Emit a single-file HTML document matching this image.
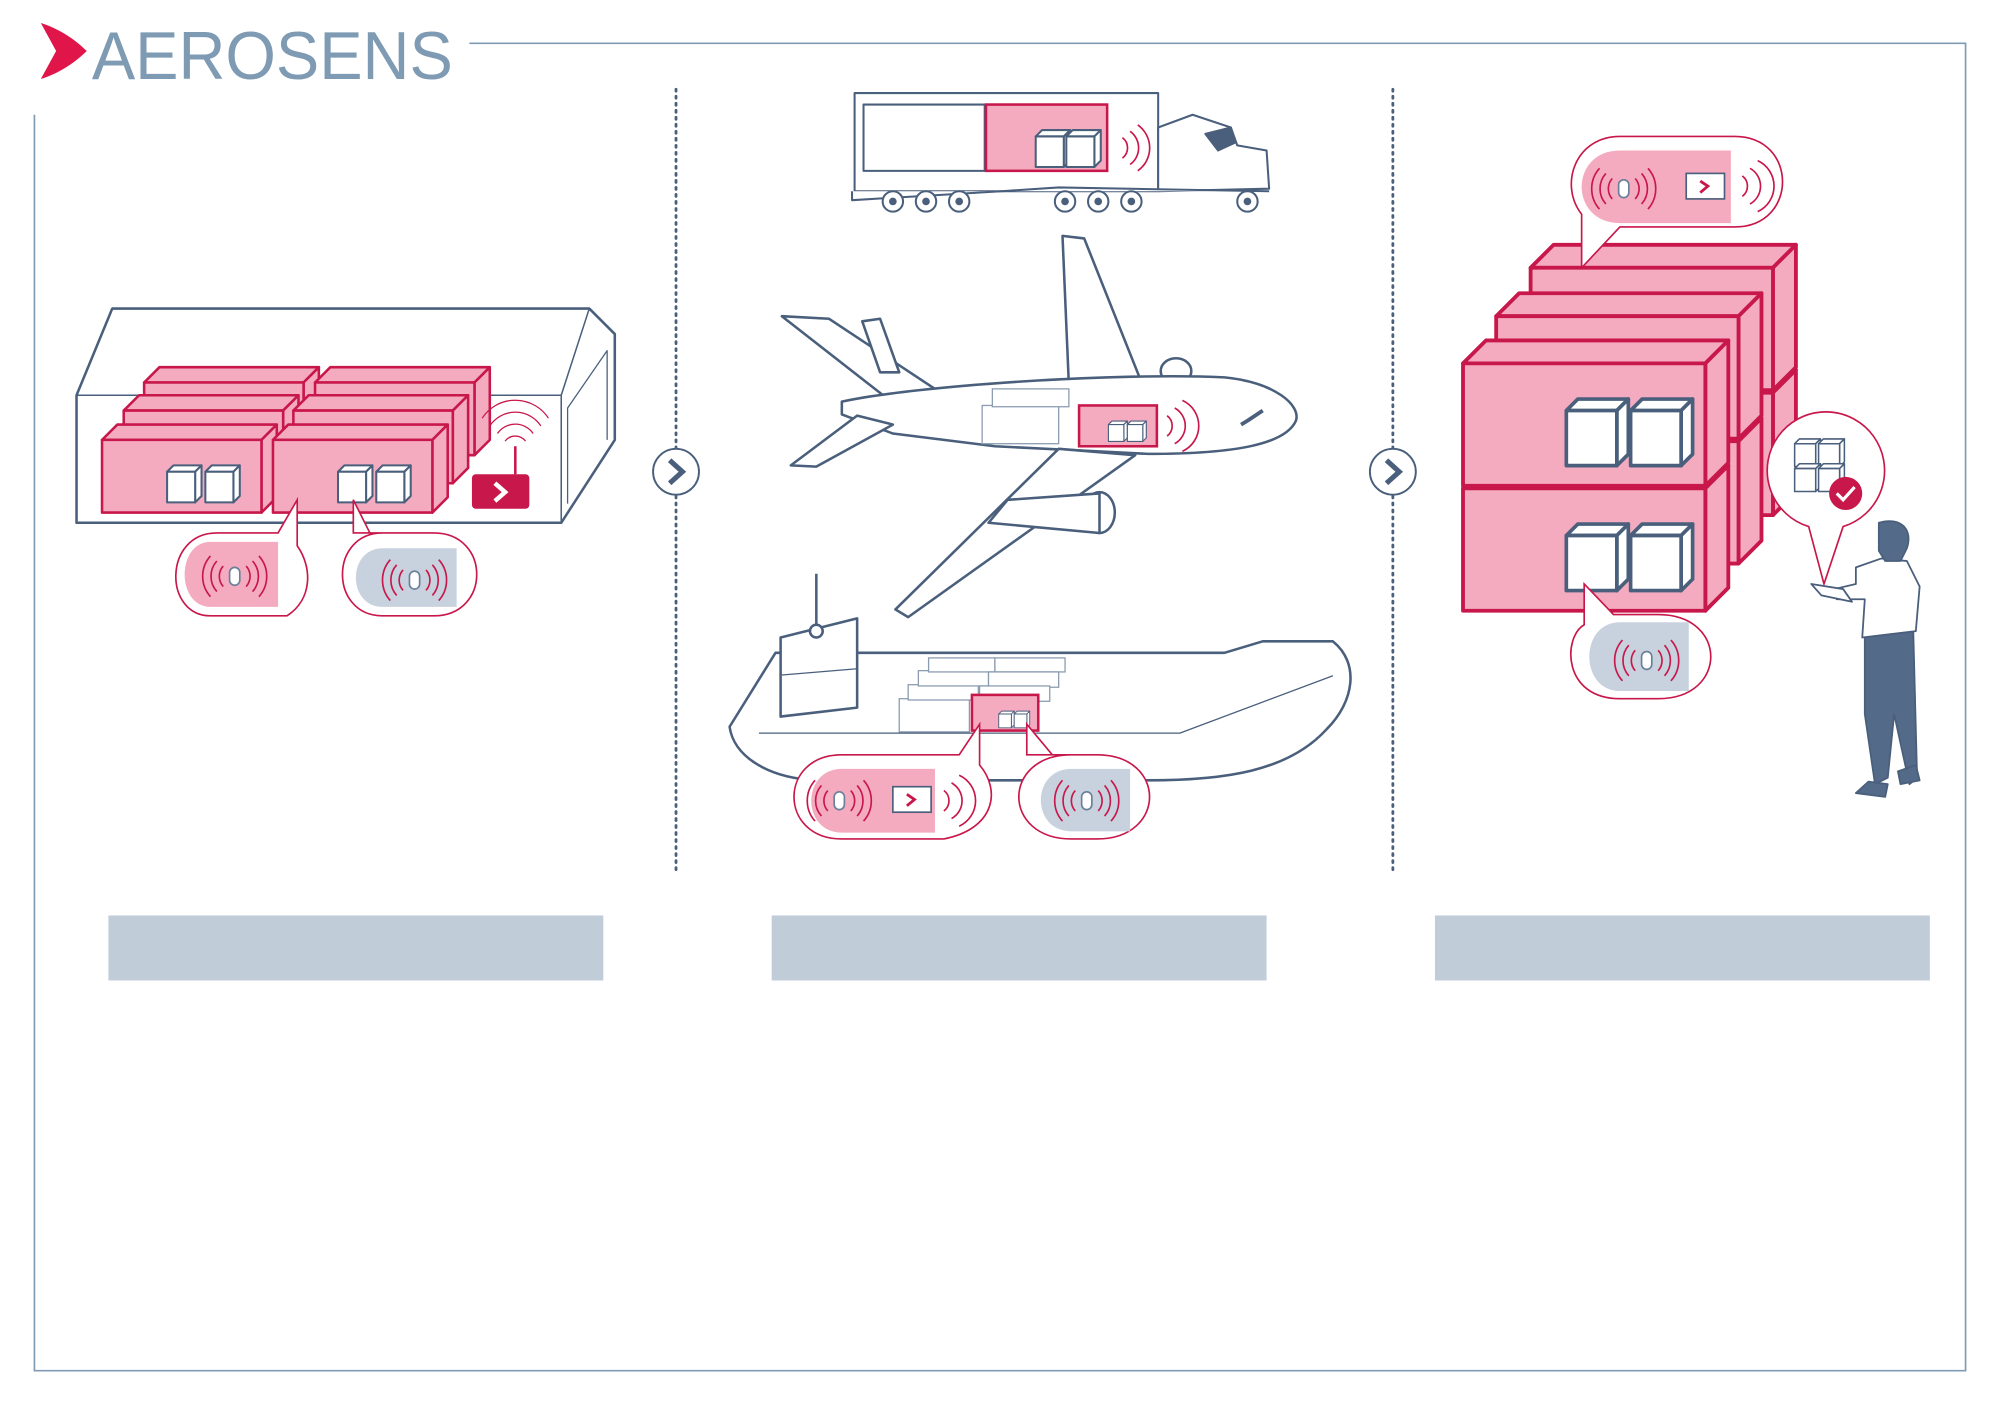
<!DOCTYPE html>
<html><head><meta charset="utf-8"><style>
html,body{margin:0;padding:0;background:#fff;}
svg{display:block;}
</style></head><body>
<svg width="2000" height="1414" viewBox="0 0 1568 1109" preserveAspectRatio="none" xmlns="http://www.w3.org/2000/svg">
<defs>
<symbol id="ct" overflow="visible"><g stroke="#c8174a" stroke-width="2" fill="#f4abc0" stroke-linejoin="round">
<path d="M0,0 L12,-12 L137,-12 L125,0 Z"/><path d="M125,0 L137,-12 L137,45 L125,57 Z"/><rect x="0" y="0" width="125" height="57"/></g></symbol>
<symbol id="bc" overflow="visible"><g stroke="#c8174a" stroke-width="3" fill="#f4abc0" stroke-linejoin="round">
<path d="M0,0 L18,-18 L208,-18 L190,0 Z"/><path d="M190,0 L208,-18 L208,78 L190,96 Z"/><rect x="0" y="0" width="190" height="96"/></g></symbol>
<symbol id="cb" overflow="visible"><g stroke="#4a5f7c" stroke-width="1.6" fill="#fff" stroke-linejoin="round">
<path d="M0,0 L5,-5 L27,-5 L22,0 Z"/><path d="M22,0 L27,-5 L27,19 L22,24 Z"/><rect x="0" y="0" width="22" height="24"/></g></symbol>
<symbol id="sig" overflow="visible"><g fill="none" stroke="#c8174a" stroke-width="1.3">
<rect x="-4" y="-7" width="8" height="14" rx="4" fill="#fff" stroke="#6a7f99"/>
<path d="M-9,-8 A12,12 0 0 0 -9,8"/><path d="M-14,-12 A18,18 0 0 0 -14,12"/><path d="M-19,-16 A24,24 0 0 0 -19,16"/>
<path d="M9,-8 A12,12 0 0 1 9,8"/><path d="M14,-12 A18,18 0 0 1 14,12"/><path d="M19,-16 A24,24 0 0 1 19,16"/></g></symbol>
<symbol id="tag" overflow="visible"><rect x="-13" y="-10" width="30" height="20" fill="#fff" stroke="#4a5f7c" stroke-width="1.3"/><path d="M-2,-4 L4,0 L-2,5" fill="none" stroke="#c8174a" stroke-width="2.2"/></symbol>
</defs>

<path d="M32,18 C45,22 58,30 68,40 C58,50 45,58 32,62 L44,40 Z" fill="#e0164a"/>
<text x="72" y="62" font-family="Liberation Sans, sans-serif" font-size="53" fill="#7f9ab3" textLength="283" lengthAdjust="spacingAndGlyphs">AEROSENS</text>
<path d="M368,34 L1541,34 L1541,1075 L27,1075 L27,90" fill="none" stroke="#7f9ab3" stroke-width="1.3"/>
<line x1="530" y1="70" x2="530" y2="685" stroke="#4a5f7c" stroke-width="2.2" stroke-dasharray="1.5 4" stroke-linecap="round"/>
<line x1="1092" y1="70" x2="1092" y2="685" stroke="#4a5f7c" stroke-width="2.2" stroke-dasharray="1.5 4" stroke-linecap="round"/>
<g stroke="#4a5f7c" stroke-width="1.5"><circle cx="530" cy="370" r="18" fill="#fff"/><circle cx="1092" cy="370" r="18" fill="#fff"/></g>
<path d="M525,361 L535,370 L525,379" fill="none" stroke="#4a5f7c" stroke-width="4"/>
<path d="M1087,361 L1097,370 L1087,379" fill="none" stroke="#4a5f7c" stroke-width="4"/>
<rect x="85" y="718" width="388" height="51" fill="#c0cdd9"/>
<rect x="605" y="718" width="388" height="51" fill="#c0cdd9"/>
<rect x="1125" y="718" width="388" height="51" fill="#c0cdd9"/>

<g fill="none" stroke="#4a5f7c" stroke-width="2" stroke-linejoin="round">
<path d="M60,310 L88,242 L462,242 L482,262 L482,345 L440,410 L60,410 Z" fill="#fff"/>
<path d="M60,310 L440,310 L462,242 M440,310 L440,410" stroke-width="1.2"/>
<path d="M445,395 L445,320 L476,275 L476,345" stroke-width="1"/>
</g>
<use href="#ct" x="113" y="300"/><use href="#ct" x="247" y="300"/>
<use href="#ct" x="97" y="322"/><use href="#ct" x="230" y="322"/>
<use href="#ct" x="80" y="345"/><use href="#ct" x="214" y="345"/>
<use href="#cb" x="131" y="370"/><use href="#cb" x="161" y="370"/>
<use href="#cb" x="265" y="370"/><use href="#cb" x="295" y="370"/>
<rect x="370" y="372" width="45" height="27" rx="3" fill="#c8174a"/>
<path d="M388,379 L396,386 L388,393" fill="none" stroke="#fff" stroke-width="3.5"/>
<line x1="404" y1="372" x2="404" y2="350" stroke="#c8174a" stroke-width="2"/>
<g fill="none" stroke="#c8174a" stroke-width="1"><path d="M396,346 A10,10 0 0 1 412,346"/><path d="M390,340 A17,17 0 0 1 418,340"/><path d="M384,334 A24,24 0 0 1 424,334"/><path d="M378,328 A31,31 0 0 1 430,328"/></g>
<g stroke="#c8174a" stroke-width="1.3" fill="#fff">
<path d="M170,418 L218,418 L233,392 L233,428 C245,445 245,470 225,483 L165,483 C128,483 128,418 170,418 Z"/>
<path d="M300,418 L290,418 L277,392 L277,418 L340,418 C385,418 385,483 340,483 L300,483 C258,483 258,418 300,418 Z"/>
</g>
<path d="M165,425 L218,425 L218,476 L165,476 C138,476 138,425 165,425 Z" fill="#f4abc0"/>
<path d="M300,430 L358,430 L358,476 L300,476 C272,476 272,430 300,430 Z" fill="#c8d2de"/>
<use href="#sig" x="184" y="452"/><use href="#sig" x="325" y="455"/>

<g stroke="#4a5f7c" stroke-width="1.6" fill="#fff" stroke-linejoin="round">
<path d="M670,73 L908,73 L908,150 L670,150 Z"/>
<rect x="677" y="82" width="95" height="52"/>
<path d="M908,100 L935,90 L965,100 L970,114 L993,118 L995,148 L908,150 Z"/>
<path d="M945,105 L965,100 L968,112 L955,118 Z" fill="#4a5f7c"/>
<path d="M668,150 L668,157 L785,150 L830,147 L995,150"/>
<circle cx="700" cy="158" r="8"/><circle cx="726" cy="158" r="8"/><circle cx="752" cy="158" r="8"/>
<circle cx="835" cy="158" r="8"/><circle cx="861" cy="158" r="8"/><circle cx="887" cy="158" r="8"/><circle cx="978" cy="158" r="8"/>
</g>
<g fill="#4a5f7c"><circle cx="700" cy="158" r="3"/><circle cx="726" cy="158" r="3"/><circle cx="752" cy="158" r="3"/><circle cx="835" cy="158" r="3"/><circle cx="861" cy="158" r="3"/><circle cx="887" cy="158" r="3"/><circle cx="978" cy="158" r="3"/></g>
<rect x="773" y="82" width="95" height="52" fill="#f4abc0" stroke="#c8174a" stroke-width="2"/>
<use href="#cb" x="812" y="107"/><use href="#cb" x="836" y="107"/>
<g fill="none" stroke="#c8174a" stroke-width="1.3"><path d="M880,108 A10,10 0 0 1 880,124"/><path d="M886,103 A16,16 0 0 1 886,129"/><path d="M892,98 A22,22 0 0 1 892,134"/></g>

<g stroke="#4a5f7c" stroke-width="2" fill="#fff" stroke-linejoin="round">
<path d="M833,185 L850,187 L895,300 L838,302 Z"/>
<ellipse cx="922" cy="291" rx="12" ry="10"/>
<path d="M613,248 L650,250 L745,313 L700,316 Z"/>
<path d="M676,252 L690,250 L705,292 L690,292 Z"/>
<path d="M660,315 C720,302 880,292 960,296 C1000,300 1020,318 1016,330 C1008,348 970,356 900,356 L780,350 L700,340 L660,325 Z"/>
<path d="M620,365 L640,366 L700,333 L672,326 Z"/>
<path d="M830,352 L890,357 L712,484 L702,478 Z"/>
<ellipse cx="862" cy="402" rx="12" ry="16"/>
<path d="M790,392 L862,387 L862,418 L775,410 Z"/>
</g>
<path d="M978,330 L990,322 M973,333 L978,330" stroke="#4a5f7c" stroke-width="3"/>
<g stroke="#8a9bb0" stroke-width="1" fill="#fff"><rect x="770" y="318" width="60" height="30"/><rect x="778" y="305" width="60" height="14"/></g>
<rect x="846" y="318" width="61" height="32" fill="#f4abc0" stroke="#c8174a" stroke-width="2"/>
<g transform="translate(869,333) scale(0.55)"><use href="#cb" x="0" y="0"/><use href="#cb" x="27" y="0"/></g>
<g fill="none" stroke="#c8174a" stroke-width="1.3"><path d="M915,326 A10,10 0 0 1 915,342"/><path d="M921,320 A16,16 0 0 1 921,348"/><path d="M927,314 A22,22 0 0 1 927,354"/></g>

<g stroke="#4a5f7c" stroke-width="2" fill="#fff" stroke-linejoin="round">
<path d="M572,570 L608,512 L960,512 L990,503 L1045,503 C1066,520 1062,550 1040,572 C1010,605 960,612 900,612 L640,612 C600,610 575,592 572,570 Z"/>
<path d="M595,575 L925,575 L1045,530" fill="none" stroke-width="1"/>
<path d="M612,530 L672,525 L672,485 L612,500 Z"/>
<path d="M612,530 L612,562 L672,555 L672,525" />
<line x1="640" y1="450" x2="640" y2="495"/><circle cx="640" cy="495" r="5"/>
</g>
<g stroke="#8a9bb0" stroke-width="1" fill="#fff">
<rect x="705" y="548" width="55" height="26"/><rect x="712" y="537" width="55" height="12"/><rect x="720" y="526" width="55" height="12"/><rect x="728" y="516" width="52" height="11"/>
<rect x="780" y="516" width="55" height="11"/><rect x="775" y="527" width="55" height="12"/><rect x="768" y="538" width="55" height="12"/>
</g>
<rect x="762" y="545" width="52" height="28" fill="#f4abc0" stroke="#c8174a" stroke-width="2"/>
<g transform="translate(783,560) scale(0.45)"><use href="#cb" x="0" y="0"/><use href="#cb" x="27" y="0"/></g>
<g stroke="#c8174a" stroke-width="1.3" fill="#fff">
<path d="M660,592 L752,592 L768,568 L768,600 C785,620 780,650 740,658 L660,658 C610,658 610,592 660,592 Z"/>
<path d="M840,592 L825,592 L805,568 L805,592 L860,592 C915,592 915,658 860,658 L840,658 C785,658 785,592 840,592 Z"/>
</g>
<path d="M660,603 L733,603 L733,653 L660,653 C628,653 628,603 660,603 Z" fill="#f4abc0"/>
<path d="M840,603 L886,603 L886,652 L840,652 C808,652 808,603 840,603 Z" fill="#c8d2de"/>
<use href="#sig" x="658" y="628"/><use href="#tag" x="713" y="627"/><use href="#sig" x="852" y="628"/>
<g fill="none" stroke="#c8174a" stroke-width="1.3"><path d="M740,620 A10,10 0 0 1 740,636"/><path d="M746,614 A16,16 0 0 1 746,642"/><path d="M752,608 A22,22 0 0 1 752,648"/></g>

<use href="#bc" x="1200" y="308"/><use href="#bc" x="1200" y="210"/>
<use href="#bc" x="1173" y="346"/><use href="#bc" x="1173" y="248"/>
<use href="#bc" x="1147" y="383"/><use href="#bc" x="1147" y="285"/>
<g transform="translate(1228,322) scale(1.8)"><use href="#cb" x="0" y="0"/><use href="#cb" x="28" y="0"/></g>
<g transform="translate(1228,420) scale(1.8)"><use href="#cb" x="0" y="0"/><use href="#cb" x="28" y="0"/></g>
<path d="M1270,107 L1360,107 C1410,107 1410,178 1360,178 L1270,178 L1240,210 L1240,168 C1222,145 1235,107 1270,107 Z" fill="#fff" stroke="#c8174a" stroke-width="1.3"/>
<path d="M1270,118 L1357,118 L1357,175 L1270,175 C1230,175 1230,118 1270,118 Z" fill="#f4abc0"/>
<use href="#sig" x="1273" y="148"/><use href="#tag" x="1335" y="146"/>
<g fill="none" stroke="#c8174a" stroke-width="1.3"><path d="M1366,138 A10,10 0 0 1 1366,154"/><path d="M1372,132 A16,16 0 0 1 1372,160"/><path d="M1378,126 A22,22 0 0 1 1378,166"/></g>
<path d="M1265,482 L1300,482 C1355,482 1355,548 1300,548 L1270,548 C1225,548 1225,500 1242,490 L1242,458 Z" fill="#fff" stroke="#c8174a" stroke-width="1.3"/>
<path d="M1270,488 L1324,488 L1324,542 L1270,542 C1238,542 1238,488 1270,488 Z" fill="#c8d2de"/>
<use href="#sig" x="1291" y="518"/>
<path d="M1418,413 A46,46 0 1 1 1445,413 L1430,458 Z" fill="#fff" stroke="#c8174a" stroke-width="1.3"/>
<g transform="translate(1407,348) scale(0.75)"><use href="#cb" x="0" y="0"/><use href="#cb" x="25" y="0"/><use href="#cb" x="0" y="26"/><use href="#cb" x="25" y="26"/></g>
<circle cx="1447" cy="387" r="13" fill="#c8174a"/>
<path d="M1440,387 L1445,392 L1454,382" fill="none" stroke="#fff" stroke-width="2.5"/>
<g stroke="#4a5f7c" stroke-width="1.4" stroke-linejoin="round">
<path d="M1462,498 L1500,495 L1503,610 L1497,615 L1485,560 L1480,610 L1470,615 L1462,560 Z" fill="#536a88"/>
<path d="M1455,445 L1475,438 L1495,440 L1505,460 L1502,495 L1460,500 L1462,470 L1440,470 L1438,462 L1455,458 Z" fill="#fff"/>
<path d="M1473,410 C1490,405 1500,415 1495,430 L1490,440 L1478,440 L1473,432 Z" fill="#536a88"/>
<path d="M1465,613 L1480,615 L1478,625 L1455,622 Z M1488,605 L1502,600 L1505,612 L1490,615 Z" fill="#536a88"/>
<path d="M1420,458 L1445,462 L1452,472 L1428,467 Z" fill="#fff"/>
</g>
</svg>
</body></html>
